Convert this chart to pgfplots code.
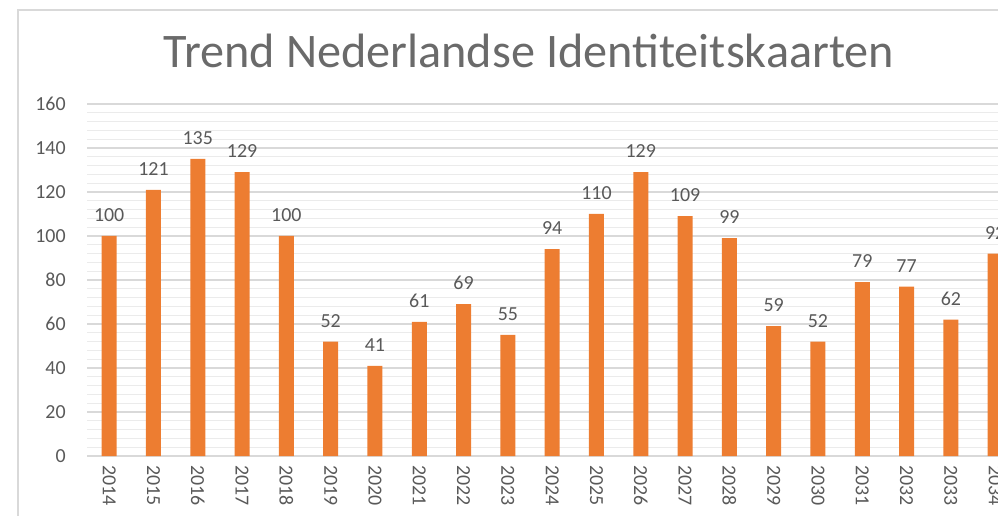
\documentclass[border=0pt]{standalone}
\usepackage{pgfplots}
\pgfplotsset{compat=1.18}
\usepackage{fontspec}
\setmainfont{Carlito}
\definecolor{txt}{HTML}{595959}
\definecolor{bar}{HTML}{ED7D31}
\definecolor{majg}{HTML}{D9D9D9}
\definecolor{ming}{HTML}{EBEBEB}
\begin{document}
\begin{tikzpicture}
\useasboundingbox (0,0) rectangle (499bp,258bp);
\clip (0,0) rectangle (499bp,258bp);
\begin{pgfinterruptboundingbox}
\draw[majg, line width=0.8bp] (9bp,-20bp) rectangle (540bp,253bp);
\begin{axis}[
  at={(43.5bp,30bp)}, anchor=south west,
  x=22.15bp, y=1.1bp,
  xmin=-0.5, xmax=22.5, ymin=0, ymax=160,
  axis line style={draw=none},
  tick style={draw=none},
  ytick={0,20,...,160},
  minor y tick num=4,
  ymajorgrids, yminorgrids,
  major grid style={majg, line width=0.7bp},
  minor grid style={ming, line width=0.6bp},
  xtick={0,...,20},
  xticklabels={2014,2015,2016,2017,2018,2019,2020,2021,2022,2023,2024,2025,2026,2027,2028,2029,2030,2031,2032,2033,2034},
  /pgf/number format/assume math mode=true,
  ticklabel style={font=\fontsize{10}{12}\selectfont, text=txt},
  yticklabel style={anchor=east, inner sep=0pt, xshift=-10.5bp},
  xticklabel style={yshift=-4.5bp, rotate=-90, anchor=west, inner sep=0pt},
  clip=false,
]
\addplot[ybar, bar width=7.5bp, fill=bar, draw=none,
  nodes near coords,
  nodes near coords style={font=\fontsize{10}{12}\selectfont, text=txt, anchor=south, inner sep=0pt, yshift=7bp},
] coordinates {
(0,100) (1,121) (2,135) (3,129) (4,100) (5,52) (6,41) (7,61) (8,69) (9,55)
(10,94) (11,110) (12,129) (13,109) (14,99) (15,59) (16,52) (17,79) (18,77) (19,62) (20,92)
};
\end{axis}
\node[anchor=base, text=txt!90, font=\fontsize{24.2}{28}\selectfont] at (264.5bp,224bp) {Trend Nederlandse Identiteitskaarten};
\end{pgfinterruptboundingbox}
\end{tikzpicture}
\end{document}
